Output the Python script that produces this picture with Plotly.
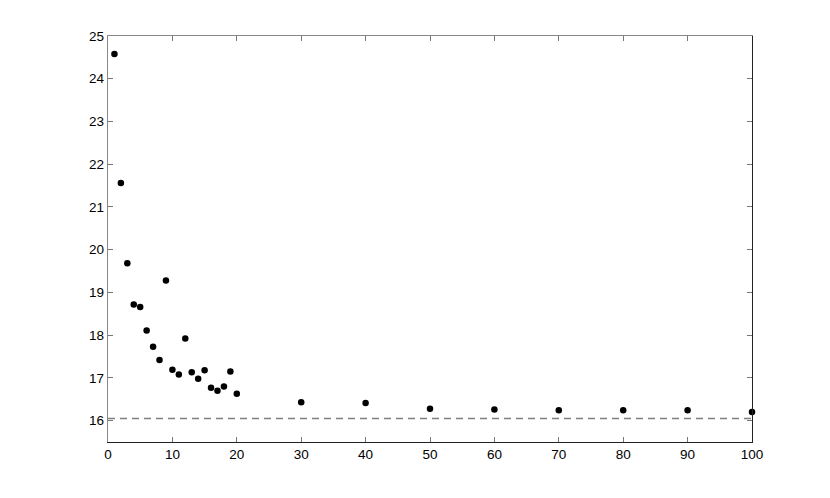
import plotly.graph_objects as go

x_vals = [1, 2, 3, 4, 5, 6, 7, 8, 9, 10, 11, 12, 13, 14, 15, 16, 17, 18, 19, 20,
          30, 40, 50, 60, 70, 80, 90, 100]
y_vals = [24.58, 21.56, 19.68, 18.72, 18.66, 18.11, 17.73, 17.42, 19.28, 17.19,
          17.08, 17.92, 17.13, 16.98, 17.18, 16.77, 16.70, 16.80, 17.15, 16.63,
          16.43, 16.41, 16.28, 16.26, 16.24, 16.24, 16.24, 16.20]
baseline_y = 16.05
x_range = [0, 100]
y_range = [15.5, 25]
x_ticks = list(range(0, 101, 10))
y_ticks = list(range(16, 26))

fig = go.Figure()
fig.add_trace(go.Scatter(x=x_range, y=[baseline_y, baseline_y], mode="lines",
                         line=dict(color="#808080", width=1.3, dash="7px,5px"),
                         hoverinfo="skip", showlegend=False))
fig.add_trace(go.Scatter(x=x_vals, y=y_vals, mode="markers",
                         marker=dict(color="black", size=6.5),
                         cliponaxis=False, showlegend=False))
# invisible trace for mirror axes
fig.add_trace(go.Scatter(x=[None], y=[None], xaxis="x2", yaxis="y2", showlegend=False))

common = dict(ticks="inside", ticklen=5, tickwidth=1, tickcolor="#777777",
              showgrid=False, zeroline=False, showline=True, linewidth=1.3,
              tickfont=dict(family="Liberation Sans, Arial, sans-serif", size=13.5, color="black"))

fig.update_layout(
    width=830, height=498,
    margin=dict(l=100, r=86, t=28, b=64),
    plot_bgcolor="white", paper_bgcolor="white",
    xaxis=dict(range=x_range, tickvals=x_ticks, linecolor="#222222", **common),
    yaxis=dict(range=y_range, tickvals=y_ticks, linecolor="#888888", **common),
    xaxis2=dict(range=x_range, tickvals=x_ticks, overlaying="x", side="top",
                showticklabels=False, linecolor="#888888", **common),
    yaxis2=dict(range=y_range, tickvals=y_ticks, overlaying="y", side="right",
                showticklabels=False, linecolor="#222222", **common),
)

fig.write_html("out.html")
